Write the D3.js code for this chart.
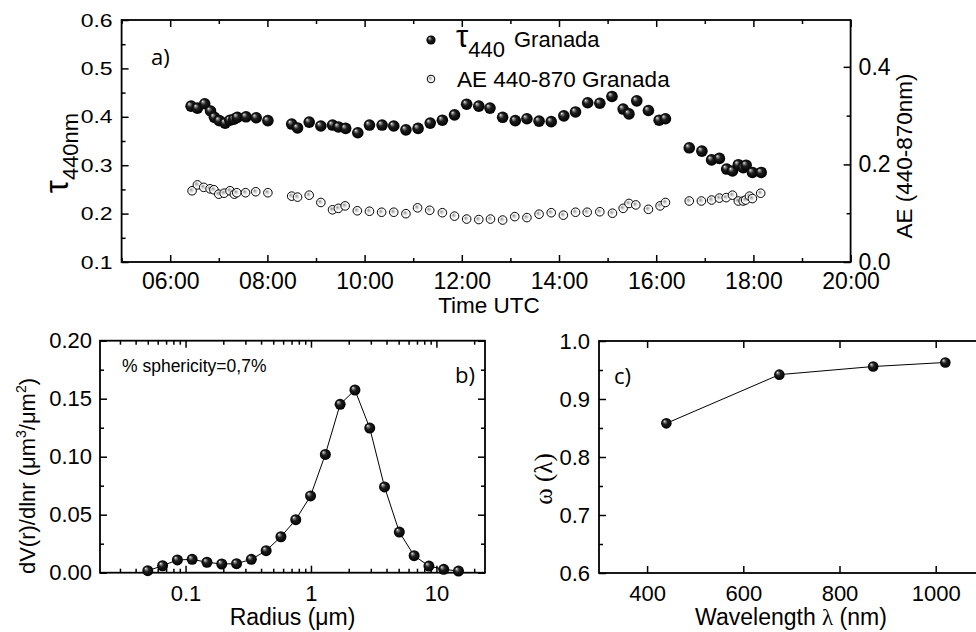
<!DOCTYPE html>
<html><head><meta charset="utf-8">
<script src="https://cdn.jsdelivr.net/npm/d3@7"></script>
<style>
body{margin:0;background:#fff;}
svg{display:block;font-family:"Liberation Sans",Arial,sans-serif;}
</style></head><body>
<svg id="chart" width="976" height="632"></svg>
<script>
// ---------- DATA ----------
const tauTimes=[6.43,6.56,6.71,6.83,6.91,7.01,7.13,7.23,7.31,7.38,7.56,7.77,8.01,8.50,8.62,8.86,9.10,9.34,9.46,9.61,9.86,10.10,10.36,10.60,10.85,11.10,11.35,11.60,11.85,12.10,12.35,12.58,12.84,13.10,13.34,13.59,13.84,14.10,14.34,14.59,14.84,15.09,15.32,15.44,15.60,15.84,16.06,16.19,16.68,16.94,17.14,17.30,17.45,17.57,17.69,17.79,17.85,17.98,18.16];
const tauValues=[0.422,0.418,0.427,0.412,0.399,0.392,0.387,0.393,0.395,0.399,0.400,0.398,0.392,0.385,0.377,0.389,0.381,0.383,0.379,0.376,0.367,0.383,0.383,0.381,0.373,0.376,0.387,0.393,0.404,0.426,0.422,0.418,0.399,0.392,0.396,0.391,0.390,0.402,0.410,0.429,0.428,0.442,0.416,0.406,0.433,0.413,0.393,0.396,0.336,0.329,0.311,0.314,0.292,0.288,0.301,0.295,0.300,0.285,0.285];
const aeTimes=[6.45,6.56,6.69,6.82,6.90,7.00,7.11,7.23,7.32,7.37,7.55,7.76,8.01,8.50,8.62,8.86,9.10,9.34,9.46,9.60,9.85,10.10,10.35,10.60,10.85,11.09,11.34,11.60,11.85,12.10,12.35,12.59,12.84,13.09,13.34,13.59,13.84,14.09,14.34,14.58,14.84,15.10,15.32,15.44,15.58,15.84,16.08,16.19,16.68,16.93,17.14,17.30,17.44,17.57,17.69,17.79,17.84,17.92,17.98,18.15];
const aeValues=[0.146,0.158,0.153,0.150,0.148,0.139,0.141,0.146,0.139,0.142,0.142,0.144,0.142,0.135,0.133,0.137,0.122,0.107,0.110,0.115,0.105,0.104,0.102,0.102,0.099,0.111,0.106,0.101,0.094,0.088,0.087,0.088,0.086,0.093,0.091,0.098,0.101,0.096,0.102,0.102,0.103,0.100,0.110,0.120,0.117,0.108,0.115,0.122,0.125,0.125,0.127,0.131,0.132,0.137,0.125,0.125,0.127,0.135,0.130,0.141];
const timeTicks=[6,8,10,12,14,16,18,20];
const timeTickLabels=["06:00","08:00","10:00","12:00","14:00","16:00","18:00","20:00"];
const tauTicks=[0.1,0.2,0.3,0.4,0.5,0.6];
const aeTicks=[0.0,0.2,0.4];

const radius=[0.05,0.0656,0.0861,0.1129,0.1482,0.1944,0.2551,0.3347,0.4392,0.5763,0.7561,0.9921,1.3017,1.7081,2.2412,2.9408,3.8588,5.0633,6.6438,8.7176,11.4387,15.0];
const dvdlnr=[0.0017,0.0060,0.0110,0.0115,0.0090,0.0075,0.0078,0.0115,0.0190,0.0310,0.0457,0.0662,0.1020,0.1452,0.1575,0.1247,0.0739,0.0350,0.0147,0.0057,0.0029,0.0014];
const radiusTicks=[0.1,1,10];
const radiusTickLabels=["0.1","1","10"];
const dvTicks=[0,0.05,0.10,0.15,0.20];

const wavelength=[440,675,870,1020];
const ssa=[0.858,0.942,0.956,0.963];
const wlTicks=[400,600,800,1000];
const ssaTicks=[0.6,0.7,0.8,0.9,1.0];

// ---------- SETUP ----------
const svg=d3.select("#chart");
svg.append("rect").attr("width",976).attr("height",632).attr("fill","#fff");
const defs=svg.append("defs");
const gb=defs.append("radialGradient").attr("id","ball").attr("cx",0.5).attr("cy",0.5).attr("r",0.5).attr("fx",0.3).attr("fy",0.28);
[[0,"#f2f2f2"],[0.18,"#8a8a8a"],[0.45,"#1e1e1e"],[1,"#000"]].forEach(s=>gb.append("stop").attr("offset",s[0]).attr("stop-color",s[1]));
const gh=defs.append("radialGradient").attr("id","hollow").attr("cx",0.5).attr("cy",0.5).attr("r",0.5).attr("fx",0.35).attr("fy",0.35);
[[0,"#8c8c8c"],[0.35,"#cfcfcf"],[0.7,"#fff"],[1,"#fff"]].forEach(s=>gh.append("stop").attr("offset",s[0]).attr("stop-color",s[1]));

function styleAxis(sel,fs){
  sel.select(".domain").remove();
  sel.selectAll(".tick line").attr("stroke","#000").attr("stroke-width",1.5);
  sel.selectAll(".tick text").attr("fill","#000").attr("font-size",fs).attr("font-family","'Liberation Sans',Arial,sans-serif");
}
function frame(x,y,opt){
  const [x0,x1]=x.range(), [y0,y1]=y.range();
  const g=svg.append("g");
  g.append("g").attr("transform",`translate(0,${y0})`)
    .call(d3.axisBottom(x).tickValues(opt.xMajor).tickFormat(opt.xFmt).tickSize(-7).tickPadding(opt.xPad))
    .call(s=>styleAxis(s,opt.fs));
  g.append("g").attr("transform",`translate(0,${y1})`)
    .call(d3.axisTop(x).tickValues(opt.xMajor).tickFormat("").tickSize(-7))
    .call(s=>styleAxis(s,opt.fs));
  if(opt.xMinor){
    g.append("g").attr("transform",`translate(0,${y0})`).call(d3.axisBottom(x).tickValues(opt.xMinor).tickFormat("").tickSize(-4)).call(s=>styleAxis(s,opt.fs));
    g.append("g").attr("transform",`translate(0,${y1})`).call(d3.axisTop(x).tickValues(opt.xMinor).tickFormat("").tickSize(-4)).call(s=>styleAxis(s,opt.fs));
  }
  const la=g.append("g").attr("transform",`translate(${x0},0)`)
    .call(d3.axisLeft(y).tickValues(opt.yMajor).tickFormat(opt.yFmt).tickSize(-7).tickPadding(opt.yPad))
    .call(s=>styleAxis(s,opt.fs));
  if(opt.yScaleY) la.selectAll(".tick text").attr("transform",`scale(1,${opt.yScaleY})`);
  if(opt.yMinor){
    g.append("g").attr("transform",`translate(${x0},0)`).call(d3.axisLeft(y).tickValues(opt.yMinor).tickFormat("").tickSize(-4)).call(s=>styleAxis(s,opt.fs));
  }
  if(!opt.noRight){
    g.append("g").attr("transform",`translate(${x1},0)`).call(d3.axisRight(y).tickValues(opt.yMajor).tickFormat("").tickSize(-7)).call(s=>styleAxis(s,opt.fs));
    if(opt.yMinor) g.append("g").attr("transform",`translate(${x1},0)`).call(d3.axisRight(y).tickValues(opt.yMinor).tickFormat("").tickSize(-4)).call(s=>styleAxis(s,opt.fs));
  }
  g.append("rect").attr("x",x0).attr("y",y1).attr("width",x1-x0).attr("height",y0-y1)
    .attr("fill","none").attr("stroke","#000").attr("stroke-width",1.8);
  return g;
}

// ---------- PANEL A ----------
const xA=d3.scaleLinear().domain([5,20]).range([121.6,850.6]);
const yA=d3.scaleLinear().domain([0.1,0.6]).range([262,20]);
const yAR=d3.scaleLinear().domain([0,0.496]).range([262,20]);
frame(xA,yA,{xMajor:timeTicks,xFmt:(d,i)=>timeTickLabels[i],xPad:11,xMinor:[5,7,9,11,13,15,17,19],
  yMajor:tauTicks,yFmt:d3.format(".1f"),yPad:9,yMinor:[0.15,0.25,0.35,0.45,0.55],fs:23,yScaleY:0.82,noRight:true});
const ra=svg.append("g").attr("transform","translate(850.6,0)");
ra.call(d3.axisRight(yAR).tickValues(aeTicks).tickFormat(d3.format(".1f")).tickSize(-7).tickPadding(8)).call(s=>styleAxis(s,23));
ra.append("g").call(d3.axisRight(yAR).tickValues([0.1,0.3]).tickFormat("").tickSize(-4)).call(s=>styleAxis(s,23));

svg.append("g").selectAll("circle").data(aeTimes).join("circle")
  .attr("cx",d=>xA(d)).attr("cy",(d,i)=>yAR(aeValues[i])).attr("r",4.3)
  .attr("fill","url(#hollow)").attr("stroke","#000").attr("stroke-width",1);
svg.append("g").selectAll("circle").data(tauTimes).join("circle")
  .attr("cx",d=>xA(d)).attr("cy",(d,i)=>yA(tauValues[i])).attr("r",5.8)
  .attr("fill","url(#ball)");

// legend
svg.append("circle").attr("cx",431).attr("cy",40).attr("r",4.6).attr("fill","url(#ball)");
svg.append("circle").attr("cx",431).attr("cy",79).attr("r",3.8).attr("fill","url(#hollow)").attr("stroke","#000").attr("stroke-width",1);
const lg1=svg.append("text").attr("x",456).attr("y",47).attr("fill","#000");
lg1.append("tspan").attr("font-size",31).text("τ");
lg1.append("tspan").attr("font-size",22).attr("dy",10).text("440");
lg1.append("tspan").attr("font-size",22).attr("dy",-10).attr("dx",9).text("Granada");
svg.append("text").attr("x",457).attr("y",87).attr("font-size",22.5).attr("fill","#000").text("AE 440-870 Granada");

svg.append("text").attr("x",151).attr("y",65).attr("font-family","'Open Sans',sans-serif").attr("font-size",22).text("a)");
svg.append("text").attr("x",489).attr("y",313).attr("text-anchor","middle").attr("font-size",22.5).text("Time UTC");
const tl=svg.append("text").attr("transform","translate(68,153) rotate(-90)").attr("text-anchor","middle");
tl.append("tspan").attr("font-size",33).text("τ");
tl.append("tspan").attr("font-size",22).attr("dy",10).text("440nm");
svg.append("text").attr("transform","translate(912,156) rotate(-90)").attr("text-anchor","middle").attr("font-size",22.5).text("AE (440-870nm)");

// ---------- PANEL B ----------
const xB=d3.scaleLog().domain([0.0208,24.4]).range([100,485]);
const yB=d3.scaleLinear().domain([0,0.2]).range([572.7,340.7]);
const bMinor=xB.ticks().filter(v=>!radiusTicks.some(m=>Math.abs(m-v)<1e-9));
frame(xB,yB,{xMajor:radiusTicks,xFmt:(d,i)=>radiusTickLabels[i],xPad:13,xMinor:bMinor,
  yMajor:dvTicks,yFmt:d3.format(".2f"),yPad:8,yMinor:[0.025,0.075,0.125,0.175],fs:22});
const lineB=d3.line().x(d=>xB(d[0])).y(d=>yB(d[1]));
svg.append("path").datum(radius.map((r,i)=>[r,dvdlnr[i]])).attr("d",lineB).attr("fill","none").attr("stroke","#000").attr("stroke-width",1);
svg.append("g").selectAll("circle").data(radius).join("circle")
  .attr("cx",d=>xB(d)).attr("cy",(d,i)=>yB(dvdlnr[i])).attr("r",5.5).attr("fill","url(#ball)");
svg.append("text").attr("x",122).attr("y",372).attr("font-size",17.5).text("% sphericity=0,7%");
svg.append("text").attr("x",455).attr("y",383).attr("font-family","'Open Sans',sans-serif").attr("font-size",22).text("b)");
svg.append("text").attr("x",292.5).attr("y",625).attr("text-anchor","middle").attr("font-size",23).text("Radius (μm)");
const bl=svg.append("text").attr("transform","translate(35,476) rotate(-90)").attr("text-anchor","middle").attr("font-size",22);
bl.append("tspan").text("dV(r)/dlnr (μm");
bl.append("tspan").attr("font-size",14).attr("dy",-9).text("3");
bl.append("tspan").attr("dy",9).text("/μm");
bl.append("tspan").attr("font-size",14).attr("dy",-9).text("2");
bl.append("tspan").attr("dy",9).text(")");

// ---------- PANEL C ----------
const xC=d3.scaleLinear().domain([300,1100]).range([599,983.8]);
const yC=d3.scaleLinear().domain([0.6,1.0]).range([573,341]);
frame(xC,yC,{xMajor:wlTicks,xFmt:d3.format("d"),xPad:12,
  yMajor:ssaTicks,yFmt:d3.format(".1f"),yPad:9,yMinor:[0.65,0.75,0.85,0.95],fs:22});
const lineC=d3.line().x(d=>xC(d[0])).y(d=>yC(d[1]));
svg.append("path").datum(wavelength.map((w,i)=>[w,ssa[i]])).attr("d",lineC).attr("fill","none").attr("stroke","#000").attr("stroke-width",1);
svg.append("g").selectAll("circle").data(wavelength).join("circle")
  .attr("cx",d=>xC(d)).attr("cy",(d,i)=>yC(ssa[i])).attr("r",5.3).attr("fill","url(#ball)");
svg.append("text").attr("x",614).attr("y",384).attr("font-family","'Open Sans',sans-serif").attr("font-size",22).text("c)");
const cx=svg.append("text").attr("x",791).attr("y",625).attr("text-anchor","middle").attr("font-size",23);
cx.append("tspan").text("Wavelength ");
cx.append("tspan").attr("font-family","'Liberation Serif',serif").text("λ");
cx.append("tspan").text(" (nm)");
svg.append("text").attr("transform","translate(552,479) rotate(-90)").attr("text-anchor","middle")
  .attr("font-family","'Liberation Serif',serif").attr("font-size",25).text("ω (λ)");
</script>
</body></html>
